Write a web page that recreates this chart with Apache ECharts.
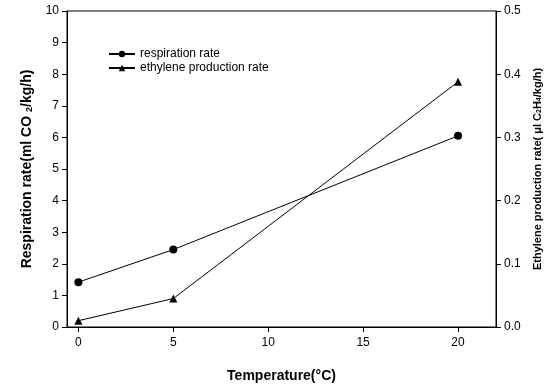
<!DOCTYPE html>
<html>
<head>
<meta charset="utf-8">
<script src="https://cdn.jsdelivr.net/npm/echarts@6/dist/echarts.min.js"></script>
<style>
  html, body { margin: 0; padding: 0; background: #fff; }
  #main { width: 550px; height: 385px; }
</style>
</head>
<body>
<div id="main"></div>
<script>
// temperatures (°C)
const temperatures = [0, 5, 20];
// respiration rate, ml CO2/kg/h (left axis)
const respirationRate = [1.42, 2.45, 6.05];
// ethylene production rate, μl C2H4/kg/h (right axis)
const ethyleneRate = [0.01, 0.045, 0.388];
const xTicks = [0, 5, 10, 15, 20];

const chart = echarts.init(document.getElementById("main"));
const font = "Arial, 'Liberation Sans', sans-serif";
const subStyle = { fontSize: 9, verticalAlign: "bottom", fontWeight: "bold", fontFamily: font };

chart.setOption({
  animation: false,
  textStyle: { fontFamily: font, color: "#000" },
  grid: {
    left: 67, right: 54, top: 11, bottom: 58,
    outerBoundsMode: "none",
    show: true, borderColor: "#000", borderWidth: 1,
  },
  legend: {
    orient: "vertical",
    left: 103, top: 43,
    itemGap: 2, itemWidth: 26, itemHeight: 8,
    textStyle: { fontSize: 12, color: "#000", fontFamily: font },
    data: ["respiration rate", "ethylene production rate"],
  },
  xAxis: {
    type: "value",
    min: -0.6, max: 22,
    name: "Temperature(°C)",
    nameLocation: "middle",
    nameGap: 42,
    nameTextStyle: { fontSize: 14, fontWeight: "bold", color: "#000" },
    splitLine: { show: false },
    axisLine: { lineStyle: { color: "#000" } },
    axisTick: { customValues: xTicks, length: 5, lineStyle: { color: "#000" } },
    axisLabel: { customValues: xTicks, fontSize: 12, color: "#000", margin: 10 },
  },
  yAxis: [
    {
      type: "value",
      min: 0, max: 10, interval: 1,
      name: "Respiration rate(ml CO {sub|2}/kg/h)",
      nameLocation: "middle",
      nameRotate: 90,
      nameGap: 33,
      nameTextStyle: { fontSize: 14, fontWeight: "bold", color: "#000", rich: { sub: subStyle } },
      splitLine: { show: false },
      axisLine: { show: true, onZero: false, lineStyle: { color: "#000" } },
      axisTick: { length: 5, lineStyle: { color: "#000" } },
      axisLabel: { fontSize: 12, color: "#000", margin: 8 },
    },
    {
      type: "value",
      min: 0, max: 0.5, interval: 0.1,
      position: "right",
      name: "Ethylene production rate( μl C{sub|2}H{sub|4}/kg/h)",
      nameLocation: "middle",
      nameRotate: 90,
      nameGap: 36,
      nameTextStyle: { fontSize: 11, fontWeight: "bold", color: "#000", rich: { sub: { ...subStyle, fontSize: 7 } } },
      splitLine: { show: false },
      axisLine: { show: true, onZero: false, lineStyle: { color: "#000" } },
      axisTick: { length: 5, lineStyle: { color: "#000" } },
      axisLabel: { fontSize: 12, color: "#000", margin: 8, formatter: (v) => v.toFixed(1) },
    },
  ],
  series: [
    {
      name: "respiration rate",
      type: "line",
      yAxisIndex: 0,
      data: temperatures.map((t, i) => [t, respirationRate[i]]),
      symbol: "circle",
      symbolSize: 8,
      itemStyle: { color: "#000" },
      lineStyle: { color: "#000", width: 1 },
    },
    {
      name: "ethylene production rate",
      type: "line",
      yAxisIndex: 1,
      data: temperatures.map((t, i) => [t, ethyleneRate[i]]),
      symbol: "triangle",
      symbolSize: 8,
      itemStyle: { color: "#000" },
      lineStyle: { color: "#000", width: 1 },
    },
  ],
});
</script>
</body>
</html>
